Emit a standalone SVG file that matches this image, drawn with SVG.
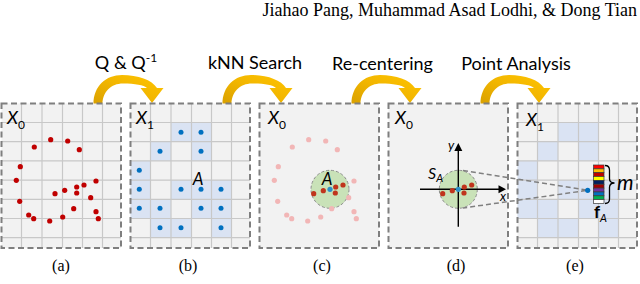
<svg xmlns="http://www.w3.org/2000/svg" xmlns:xlink="http://www.w3.org/1999/xlink" width="640" height="284" viewBox="0 0 640 284">
<style>
.bg{fill:#f2f2f2}
.border{fill:none;stroke:#7f7f7f;stroke-width:2;stroke-dasharray:6 3.5}
.grid{fill:none;stroke:#c8c8c8;stroke-width:1.2}
.cell{fill:#dae3f3}
.rd{fill:#c00000}
.rd2{fill:#c0341c}
.pk{fill:#f2b6b6}
.bd{fill:#0070c0}
.cd{fill:#2e90c8}
.lbl{font-family:Lato,"Liberation Sans",sans-serif;font-size:18px;fill:#000;text-anchor:middle}
.var{font-family:Lato,"Liberation Sans",sans-serif;font-style:italic;fill:#000}
.cap{font-family:"Liberation Serif",serif;font-size:16px;fill:#000;text-anchor:middle}
.hdr{font-family:"Liberation Serif",serif;font-size:18px;fill:#000;text-anchor:end}
.circ{fill:#c9e2b8;stroke:#8c8c8c;stroke-width:1;stroke-dasharray:3 2}
.ax{stroke:#000;stroke-width:1.4;fill:none}
.proj{stroke:#808080;stroke-width:1.5;stroke-dasharray:5 3;fill:none}
</style>
<defs>
<linearGradient id="gold" x1="0" y1="1" x2="1" y2="0">
<stop offset="0" stop-color="#d9a000"/>
<stop offset="0.5" stop-color="#f2b600"/>
<stop offset="1" stop-color="#ffc400"/>
</linearGradient>
<path id="arrow" d="M93.5 104 C93.5 86 106 75 122 75 C138 75 152 80 157 88 L163.5 88 L152 103 L140.5 88 L147 88 C144 85 135 83.5 123 83.5 C111 83.5 102.5 92 102.5 104 Z" fill="url(#gold)"/>
<path id="gridlines" class="grid" d="M20 0V144.5M40.5 0V144.5M61 0V144.5M81 0V144.5M101 0V144.5M0 19H119.5M0 38.2H119.5M0 57.4H119.5M0 76.6H119.5M0 95.8H119.5M0 115H119.5M0 134.2H119.5"/>
<g id="cells" class="cell">
<rect x="40.5" y="19" width="40.5" height="19.2"/>
<rect x="20" y="38.2" width="20.5" height="19.2"/>
<rect x="61" y="38.2" width="20" height="19.2"/>
<rect x="0" y="57.4" width="20" height="38.4"/>
<rect x="40.5" y="76.6" width="60.5" height="19.2"/>
<rect x="0" y="95.8" width="40.5" height="19.2"/>
<rect x="61" y="95.8" width="40" height="19.2"/>
<rect x="20" y="115" width="41" height="19.2"/>
<rect x="81" y="115" width="20" height="19.2"/>
</g>
</defs>

<text class="hdr" x="637" y="16">Jiahao Pang, Muhammad Asad Lodhi, &amp; Dong Tian</text>

<g id="connectors">
<use xlink:href="#arrow"/>
<use xlink:href="#arrow" transform="translate(129 0)"/>
<use xlink:href="#arrow" transform="translate(258 0)"/>
<use xlink:href="#arrow" transform="translate(387 0)"/>
<text class="lbl" x="126" y="69">Q &amp; Q<tspan font-size="12" dy="-7">-1</tspan></text>
<text class="lbl" x="255" y="69">kNN Search</text>
<text class="lbl" x="382.5" y="69.5">Re-centering</text>
<text class="lbl" x="516" y="69.5">Point Analysis</text>
</g>

<g id="panel-a">
<rect class="bg" x="1.5" y="103.5" width="119.5" height="144.5"/>
<use xlink:href="#gridlines" transform="translate(1.5 103.5)"/>
<rect class="border" x="1.5" y="103.5" width="119.5" height="144.5"/>
<text class="var" x="7" y="124" font-size="18">X<tspan font-size="12" font-style="normal" dy="5">0</tspan></text>
<g class="rd">
<circle cx="34.3" cy="147" r="2.6"/><circle cx="50.7" cy="139.7" r="2.6"/><circle cx="67.7" cy="141" r="2.6"/><circle cx="79.3" cy="149.7" r="2.6"/>
<circle cx="20.3" cy="166.7" r="2.6"/><circle cx="16.3" cy="180.3" r="2.6"/><circle cx="19.7" cy="201.3" r="2.6"/><circle cx="28.7" cy="215" r="2.6"/>
<circle cx="33.7" cy="218.7" r="2.6"/><circle cx="49.7" cy="221" r="2.6"/><circle cx="62.7" cy="217" r="2.6"/><circle cx="73.7" cy="208.7" r="2.6"/>
<circle cx="55" cy="193.7" r="2.6"/><circle cx="64.7" cy="190.3" r="2.6"/><circle cx="76.7" cy="187" r="2.6"/><circle cx="76.7" cy="193" r="2.6"/>
<circle cx="84" cy="185" r="2.6"/><circle cx="96" cy="181" r="2.6"/><circle cx="90.7" cy="197.7" r="2.6"/><circle cx="96" cy="211.7" r="2.6"/>
<circle cx="98.3" cy="218.7" r="2.6"/>
</g>
<text class="cap" x="61" y="271">(a)</text>
</g>

<g id="panel-b">
<rect class="bg" x="130.5" y="103.5" width="119.5" height="144.5"/>
<use xlink:href="#cells" transform="translate(130.5 103.5)"/>
<use xlink:href="#gridlines" transform="translate(130.5 103.5)"/>
<rect class="border" x="130.5" y="103.5" width="119.5" height="144.5"/>
<text class="var" x="136" y="124" font-size="18">X<tspan font-size="12" font-style="normal" dy="5">1</tspan></text>
<g class="bd">
<circle cx="181" cy="132.3" r="2.5"/><circle cx="201" cy="132.3" r="2.5"/>
<circle cx="160" cy="151.3" r="2.5"/><circle cx="201" cy="151.3" r="2.5"/>
<circle cx="139.3" cy="170.3" r="2.5"/>
<circle cx="139.3" cy="189.3" r="2.5"/><circle cx="181" cy="189.3" r="2.5"/><circle cx="201" cy="189.3" r="2.5"/><circle cx="221" cy="189.3" r="2.5"/>
<circle cx="139.3" cy="208.3" r="2.5"/><circle cx="160" cy="208.3" r="2.5"/><circle cx="201" cy="208.3" r="2.5"/><circle cx="221" cy="208.3" r="2.5"/>
<circle cx="160" cy="227.7" r="2.5"/><circle cx="181" cy="227.7" r="2.5"/><circle cx="221" cy="227.7" r="2.5"/>
</g>
<text class="var" x="198" y="185" font-size="17" text-anchor="middle">A</text>
<text class="cap" x="188" y="271">(b)</text>
</g>

<g id="panel-c">
<rect class="bg" x="259.5" y="103.5" width="119.5" height="144.5"/>
<rect class="border" x="259.5" y="103.5" width="119.5" height="144.5"/>
<text class="var" x="268" y="124" font-size="18">X<tspan font-size="12" font-style="normal" dy="5">0</tspan></text>
<circle class="circ" cx="330" cy="189.3" r="19"/>
<g class="pk">
<circle cx="292.3" cy="147" r="2.6"/><circle cx="308.7" cy="139.7" r="2.6"/><circle cx="325.7" cy="141" r="2.6"/><circle cx="337.3" cy="149.7" r="2.6"/>
<circle cx="278.3" cy="166.7" r="2.6"/><circle cx="274.3" cy="180.3" r="2.6"/><circle cx="277.7" cy="201.3" r="2.6"/><circle cx="286.7" cy="215" r="2.6"/>
<circle cx="291.7" cy="218.7" r="2.6"/><circle cx="307.7" cy="221" r="2.6"/><circle cx="320.7" cy="217" r="2.6"/><circle cx="331.7" cy="208.7" r="2.6"/>
<circle cx="354" cy="181" r="2.6"/><circle cx="348.7" cy="197.7" r="2.6"/><circle cx="354" cy="211.7" r="2.6"/><circle cx="356.3" cy="218.7" r="2.6"/>
</g>
<g class="rd2">
<circle cx="313.7" cy="193.7" r="2.6"/><circle cx="323.3" cy="190.7" r="2.6"/><circle cx="335.7" cy="187" r="2.6"/><circle cx="335.3" cy="193" r="2.6"/><circle cx="343" cy="185" r="2.6"/>
</g>
<circle class="cd" cx="330" cy="189.3" r="2.6"/>
<text class="var" x="327" y="185" font-size="17" text-anchor="middle">A</text>
<text class="cap" x="322" y="271">(c)</text>
</g>

<g id="panel-d">
<rect class="bg" x="388.5" y="103.5" width="119.5" height="144.5"/>
<rect class="border" x="388.5" y="103.5" width="119.5" height="144.5"/>
<text class="var" x="395" y="124" font-size="18">X<tspan font-size="12" font-style="normal" dy="5">0</tspan></text>
<circle class="circ" cx="458.3" cy="189.3" r="19"/>
<path class="ax" d="M420 189.3H500M458.3 226.7V150"/>
<polygon points="506,189.3 498.5,185.3 498.5,193.3" fill="#000"/>
<polygon points="458.3,143 454.3,151 462.3,151" fill="#000"/>
<g class="rd2">
<circle cx="442.7" cy="193.7" r="2.6"/><circle cx="452.3" cy="190.7" r="2.6"/><circle cx="464.3" cy="187" r="2.6"/><circle cx="464" cy="193" r="2.6"/><circle cx="471.7" cy="185" r="2.6"/>
</g>
<circle class="cd" cx="458.3" cy="189.3" r="2.6"/>
<text class="var" x="451" y="150" font-size="13" text-anchor="middle">y</text>
<text class="var" x="503" y="201" font-size="13" text-anchor="middle">x</text>
<text class="var" x="428" y="179" font-size="16">S<tspan font-size="11" dy="3">A</tspan></text>
<text class="cap" x="456" y="271">(d)</text>
</g>

<g id="panel-e">
<rect class="bg" x="517.5" y="103.5" width="119.5" height="144.5"/>
<use xlink:href="#cells" transform="translate(517.5 103.5)"/>
<use xlink:href="#gridlines" transform="translate(517.5 103.5)"/>
<rect class="border" x="517.5" y="103.5" width="119.5" height="144.5"/>
<text class="var" x="526" y="126" font-size="18">X<tspan font-size="12" font-style="normal" dy="5">1</tspan></text>
<g id="feature" stroke="#3a3a3a" stroke-width="0.7">
<rect x="593.5" y="165" width="10.5" height="3.85" fill="#ff0000"/>
<rect x="593.5" y="168.85" width="10.5" height="3.85" fill="#ffc000"/>
<rect x="593.5" y="172.7" width="10.5" height="3.85" fill="#c00000"/>
<rect x="593.5" y="176.55" width="10.5" height="3.85" fill="#ffff00"/>
<rect x="593.5" y="180.4" width="10.5" height="3.85" fill="#002060"/>
<rect x="593.5" y="184.25" width="10.5" height="3.85" fill="#a00000"/>
<rect x="593.5" y="188.1" width="10.5" height="3.85" fill="#7030a0"/>
<rect x="593.5" y="191.95" width="10.5" height="3.85" fill="#0070c0"/>
<rect x="593.5" y="195.8" width="10.5" height="3.85" fill="#00b050"/>
<rect x="593.5" y="199.65" width="10.5" height="3.85" fill="#ffffff"/>
</g>
<path d="M605 165.5Q609.5 165.5 609.5 170V178.5Q609.5 183 614.5 183Q609.5 183 609.5 187.5V199Q609.5 203.5 605 203.5" fill="none" stroke="#000" stroke-width="1.3"/>
<text class="var" x="617" y="190" font-size="21">m</text>
<text x="594" y="218" font-family="Lato,'Liberation Sans',sans-serif" font-weight="bold" font-size="17">f<tspan font-size="11" font-weight="normal" font-style="italic" dy="4">A</tspan></text>
<text class="cap" x="575" y="271">(e)</text>
</g>

<g id="projection">
<path class="proj" d="M463 170.5L587.7 190.3L463 208"/>
<circle class="bd" cx="587.7" cy="190.3" r="2.6"/>
</g>
</svg>
